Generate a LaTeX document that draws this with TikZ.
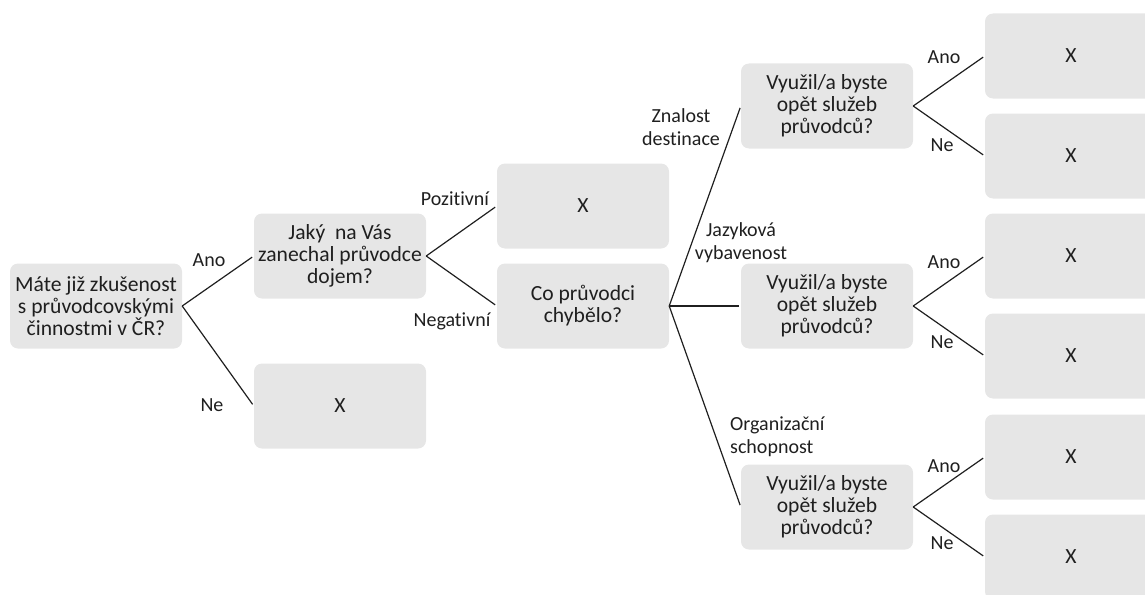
\documentclass[tikz,border=0pt]{standalone}
\usepackage{fontspec}
\setmainfont{Carlito}[Ligatures=NoCommon]
\usepackage{xcolor}
\usepackage{tikz}
\usetikzlibrary{positioning}
\definecolor{sedy}{HTML}{E6E6E6}
\definecolor{tmavy}{HTML}{1F1F1F}
\tikzset{
  every picture/.style={font=\fontsize{20}{23}\selectfont},
  otazka/.style={fill=sedy, text=tmavy, rounded corners=8pt, minimum width=172pt, minimum height=85pt,
                 inner sep=2pt, align=center, font=\fontsize{21.6}{22}\selectfont},
  popis/.style={text=tmavy, inner sep=0pt, align=center, font=\fontsize{20}{23}\selectfont},
  hrana/.style={draw=tmavy, line width=1.2pt, shorten >=2pt},
}

\begin{document}
\begin{tikzpicture}[x=1pt, y=-1pt]
  \useasboundingbox (0,0) rectangle (1145,594);
  \clip (0,0) rectangle (1145,594);
  \node[otazka] (zkus) at (96,306) {Máte již zkušenost\\s průvodcovskými\\činnostmi v ČR?};
  \node[otazka] (dojem) at (340,256) {Jaký\ \ na Vás\\zanechal průvodce\\dojem?};
  \node[otazka] (nezkus) at (340,406) {X};
  \draw[hrana] (zkus.east) -- (dojem.west); \draw[hrana] (zkus.east) -- (nezkus.west);
  \node[popis] (ano0) at (209,260) {Ano};
  \node[popis] (ne0) at (212,405) {Ne};
  \node[otazka] (poz) at (583,206) {X};
  \node[otazka] (chyb) at (583,306) {Co průvodci\\chybělo?};
  \draw[hrana] (dojem.east) -- (poz.west); \draw[hrana] (dojem.east) -- (chyb.west);
  \node[popis] (lpoz) at (455,199) {Pozitivní};
  \node[popis] (lneg) at (452,321) {Negativní};
  \node[popis] (lzna) at (681,127) {Znalost\\destinace};
  \node[popis] (ljaz) at (741,243) {Jazyková\\vybavenost};
  \node[popis, anchor=west, align=left] (lorg) at (730,437) {Organizační\\schopnost};
  % tri duvody, u kazdeho znovu otazka a dve odpovedi
  \foreach \i/\y/\a/\n in {1/106/57/145, 2/306/262/342, 3/507/466/543} {
    \node[otazka] (vyuz\i) at (827,\y) {Využil/a byste\\opět služeb\\průvodců?};
    \draw[hrana] (chyb.east) -- (vyuz\i.west);
    \node[otazka] (x\i a) at (1071,\y-50) {X};
    \node[otazka] (x\i b) at (1071,\y+50) {X};
    \draw[hrana] (vyuz\i.east) -- (x\i a.west); \draw[hrana] (vyuz\i.east) -- (x\i b.west);
    \node[popis] (ano\i) at (944,\a) {Ano};
    \node[popis] (ne\i) at (942,\n) {Ne};
  }
\end{tikzpicture}
\end{document}
